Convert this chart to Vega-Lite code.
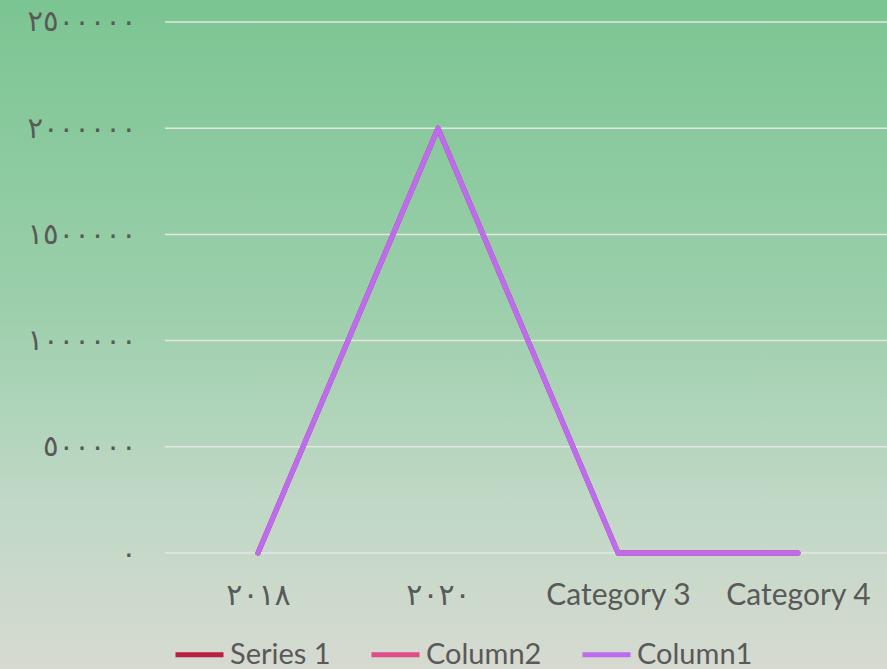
{
  "$schema": "https://vega.github.io/schema/vega-lite/v6.json",
  "width": 887,
  "height": 669,
  "autosize": {"type": "none"},
  "padding": 0,
  "background": "#d6dad0",
  "config": {
    "view": {"stroke": null, "fill": {"gradient": "linear", "x1": 0, "y1": 0, "x2": 0, "y2": 1, "stops": [
      {"offset": 0, "color": "#7bc592"},
      {"offset": 0.45, "color": "#9bcfab"},
      {"offset": 0.75, "color": "#c0d8c6"},
      {"offset": 1, "color": "#d6dad0"}
    ]}},
    "font": "Lato, 'DejaVu Sans'"
  },
  "layer": [
    {
      "data": {"values": [{"v": 0}, {"v": 500000}, {"v": 1000000}, {"v": 1500000}, {"v": 2000000}, {"v": 2500000}]},
      "mark": {"type": "rule", "color": "#e4e6e4", "strokeWidth": 1.5},
      "encoding": {
        "y": {"field": "v", "type": "quantitative", "title": null},
        "x": {"datum": -0.5167, "type": "quantitative", "title": null},
        "x2": {"datum": 3.4944}
      }
    },
    {
      "data": {"values": [
        {"category": "٢٠١٨", "idx": 0, "series": "Series 1", "value": 0},
        {"category": "٢٠٢٠", "idx": 1, "series": "Series 1", "value": 2000000},
        {"category": "Category 3", "idx": 2, "series": "Series 1", "value": 0},
        {"category": "Category 4", "idx": 3, "series": "Series 1", "value": 0},
        {"category": "٢٠١٨", "idx": 0, "series": "Column2", "value": 0},
        {"category": "٢٠٢٠", "idx": 1, "series": "Column2", "value": 2000000},
        {"category": "Category 3", "idx": 2, "series": "Column2", "value": 0},
        {"category": "Category 4", "idx": 3, "series": "Column2", "value": 0},
        {"category": "٢٠١٨", "idx": 0, "series": "Column1", "value": 0},
        {"category": "٢٠٢٠", "idx": 1, "series": "Column1", "value": 2000000},
        {"category": "Category 3", "idx": 2, "series": "Column1", "value": 0},
        {"category": "Category 4", "idx": 3, "series": "Column1", "value": 0}
      ]},
      "mark": {"type": "line", "strokeWidth": 5, "strokeCap": "round", "strokeJoin": "round"},
      "encoding": {
        "x": {
          "field": "idx", "type": "quantitative", "title": null,
          "scale": {"domain": [-1.4333, 3.4944], "nice": false, "zero": false},
          "axis": {
            "title": null, "domain": false, "ticks": false, "grid": false, "offset": -116,
            "values": [0, 1, 2, 3],
            "labelExpr": "datum.value == 0 ? '٢٠١٨' : datum.value == 1 ? '٢٠٢٠' : datum.value == 2 ? 'Category 3' : 'Category 4'",
            "labelFontSize": 30, "labelColor": "#595959", "labelPadding": 27, "labelFont": "Lato, 'DejaVu Sans'", "labelFlush": false, "labelOverlap": false
          }
        },
        "y": {
          "field": "value", "type": "quantitative", "title": null,
          "scale": {"domain": [-546139, 2603578], "nice": false, "zero": false},
          "axis": {
            "title": null, "domain": false, "ticks": false, "grid": false, "offset": -168,
            "values": [0, 500000, 1000000, 1500000, 2000000, 2500000],
            "labelExpr": "datum.value == 0 ? '٠' : datum.value == 500000 ? '٥٠٠٠٠٠' : datum.value == 1000000 ? '١٠٠٠٠٠٠' : datum.value == 1500000 ? '١٥٠٠٠٠٠' : datum.value == 2000000 ? '٢٠٠٠٠٠٠' : '٢٥٠٠٠٠٠'",
            "labelFontSize": 29, "labelColor": "#595959", "labelPadding": 32, "labelFont": "'DejaVu Sans'", "labelFlush": false, "labelOverlap": false
          }
        },
        "color": {
          "field": "series", "type": "nominal",
          "scale": {"domain": ["Series 1", "Column2", "Column1"], "range": ["#b91f40", "#e04b8a", "#bb6cf0"]},
          "legend": {
            "orient": "none", "legendX": 173, "legendY": 628, "direction": "horizontal", "title": null,
            "padding": 0, "symbolType": "stroke", "symbolSize": 2304, "symbolStrokeWidth": 5,
            "labelFontSize": 29, "labelColor": "#595959", "labelOffset": 4, "columnPadding": 30,
            "labelFont": "Lato"
          }
        }
      }
    }
  ]
}
